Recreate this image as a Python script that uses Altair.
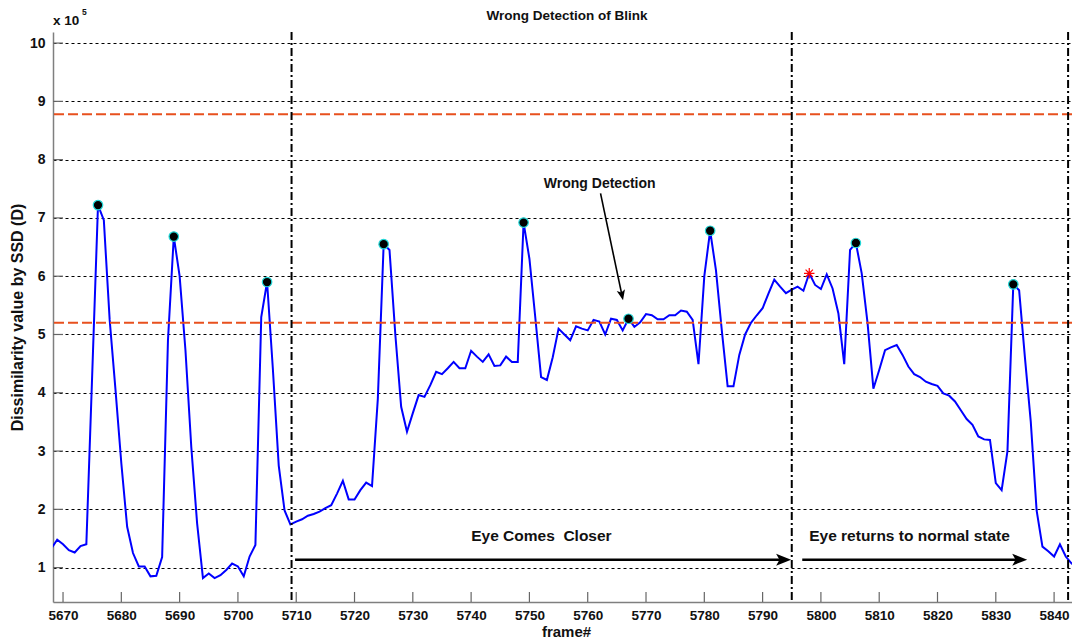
import altair as alt
import pandas as pd

# ---------------- data ----------------
frames = list(range(5668, 5845))
ssd = [
    1.33, 1.48, 1.40, 1.30, 1.26, 1.37, 1.40, 4.30, 7.22, 6.96,   # 5668-5677
    5.25, 4.05, 2.79, 1.70, 1.25, 1.02, 1.02, 0.85, 0.86, 1.18,   # 5678-5687
    4.90, 6.68, 6.00, 4.73, 3.07, 1.76, 0.82, 0.90, 0.82, 0.87,   # 5688-5697
    0.96, 1.07, 1.02, 0.85, 1.19, 1.39, 5.30, 5.90, 4.40, 2.75,   # 5698-5707
    1.98, 1.74, 1.79, 1.83, 1.89, 1.92, 1.96, 2.02, 2.07, 2.27,   # 5708-5717
    2.49, 2.17, 2.17, 2.33, 2.46, 2.40, 3.90, 6.55, 6.45, 5.00,   # 5718-5727
    3.76, 3.33, 3.65, 3.96, 3.93, 4.13, 4.36, 4.32, 4.42, 4.53,   # 5728-5737
    4.42, 4.42, 4.72, 4.62, 4.53, 4.66, 4.46, 4.47, 4.62, 4.53,   # 5738-5747
    4.53, 6.92, 6.30, 5.30, 4.27, 4.22, 4.61, 5.10, 5.00, 4.90,   # 5748-5757
    5.14, 5.10, 5.07, 5.25, 5.22, 5.00, 5.27, 5.25, 5.07, 5.27,   # 5758-5767
    5.13, 5.21, 5.35, 5.33, 5.26, 5.26, 5.33, 5.33, 5.41, 5.39,   # 5768-5777
    5.25, 4.49, 6.00, 6.78, 6.10, 5.07, 4.11, 4.11, 4.65, 5.00,   # 5778-5787
    5.20, 5.33, 5.45, 5.70, 5.94, 5.82, 5.71, 5.77, 5.82, 5.75,   # 5788-5797
    6.05, 5.85, 5.78, 6.03, 5.79, 5.36, 4.49, 6.45, 6.57, 6.05,   # 5798-5807
    5.20, 4.07, 4.39, 4.73, 4.78, 4.82, 4.65, 4.45, 4.32, 4.27,   # 5808-5817
    4.19, 4.15, 4.12, 3.99, 3.95, 3.85, 3.70, 3.55, 3.45, 3.25,   # 5818-5827
    3.20, 3.19, 2.45, 2.33, 3.00, 5.86, 5.76, 4.60, 3.50, 1.98,   # 5828-5837
    1.36, 1.28, 1.19, 1.40, 1.19, 1.07, 1.13,                     # 5838-5844
]
assert len(frames) == len(ssd)

peak_frames = [5676, 5689, 5705, 5725, 5749, 5767, 5781, 5806, 5833]
false_frames = [5798]
thresholds = [8.78, 5.2]
boundaries = [5709.2, 5795.0, 5842.4]
x_ticks = list(range(5670, 5841, 10))
y_ticks = list(range(1, 11))

# arrows (frame / value coordinates)
arrow_x1 = [5709.8, 5796.8, 5762.2]
arrow_y1 = [1.137, 1.137, 7.42]
arrow_x2 = [5793.6, 5834.1, 5765.87]   # where the shaft meets the head
arrow_y2 = [1.137, 1.137, 5.674]
arrow_angle = [0, 0, 78]
arrow_size = [225, 225, 110]

ann_text = ["Wrong Detection", "Eye Comes\u00a0 Closer", "Eye returns to normal state"]
ann_x = [5762.06, 5752.06, 5815.2]
ann_y = [7.59, 1.537, 1.537]
ann_size = [14, 15.5, 15.5]

W, H = 1019, 570
XDOM = [5668.28, 5843.07]
YDOM = [0.41, 10.19]
FONT = "Liberation Sans"

xs = alt.Scale(domain=XDOM, nice=False, zero=False)
ys = alt.Scale(domain=YDOM, nice=False, zero=False)

# ---------------- tables ----------------
df = pd.DataFrame({"frame": frames, "ssd": ssd})
lookup = dict(zip(frames, ssd))
df_peak = pd.DataFrame({"frame": peak_frames, "ssd": [lookup[f] for f in peak_frames]})
df_false = pd.DataFrame({"frame": false_frames, "ssd": [lookup[f] for f in false_frames]})
df_thr = pd.DataFrame({"thr": thresholds})
df_bnd = pd.DataFrame({"frame": boundaries})
df_xt = pd.DataFrame({"frame": x_ticks})
df_yt = pd.DataFrame({"ssd": y_ticks})
df_arr = pd.DataFrame({"frame": arrow_x1, "ssd": arrow_y1, "x2": arrow_x2, "y2": arrow_y2,
                       "w": [2.5, 2.5, 1.6]})
df_head = pd.DataFrame({"frame": arrow_x2, "ssd": arrow_y2, "ang": arrow_angle,
                        "sz": arrow_size})
df_ann = pd.DataFrame({"txt": ann_text, "frame": ann_x, "ssd": ann_y, "fs": ann_size})

X = alt.X("frame:Q", scale=xs, title="frame#")
Y = alt.Y("ssd:Q", scale=ys, title="Dissimilarity value by SSD (D)")

# ---------------- layers ----------------
line = alt.Chart(df).mark_line(color="#0000ff", strokeWidth=2, clip=True).encode(
    x=alt.X("frame:Q", scale=xs, title="frame#", axis=alt.Axis(
        values=x_ticks, format="d", grid=False, ticks=False, labelFlush=False,
        domainColor="#7f7f7f", domainWidth=1.5,
        labelFont=FONT, labelFontWeight="bold", labelFontSize=13.5, labelColor="#111111",
        labelPadding=6, titleFont=FONT, titleFontWeight="bold",
        titleFontSize=15, titleColor="#111111", titlePadding=3, titleX=513)),
    y=alt.Y("ssd:Q", scale=ys, title="Dissimilarity value by SSD (D)", axis=alt.Axis(
        values=y_ticks, format="d", grid=True, gridDash=[3, 3], gridColor="#000000",
        gridWidth=1, ticks=False, domainColor="#7f7f7f", domainWidth=1.5,
        labelFont=FONT, labelFontWeight="bold", labelFontSize=14, labelColor="#111111",
        labelPadding=8, titleFont=FONT,
        titleFontWeight="bold", titleFontSize=16, titleColor="#111111", titlePadding=4)),
)

thr = alt.Chart(df_thr).mark_rule(color="#e8501e", strokeDash=[10, 4], strokeWidth=2).encode(
    y=alt.Y("thr:Q", scale=ys, title="Dissimilarity value by SSD (D)"))

bnd = alt.Chart(df_bnd).mark_rule(color="black", strokeDash=[8, 3, 2, 3], strokeWidth=2).encode(
    x=X)

xt = alt.Chart(df_xt).mark_rule(color="#666666", strokeWidth=1.2).encode(
    x=X, y=alt.value(H), y2=alt.value(H - 10))
yt = alt.Chart(df_yt).mark_rule(color="#666666", strokeWidth=1.2).encode(
    y=Y, x=alt.value(0), x2=alt.value(10))

peaks = alt.Chart(df_peak).mark_circle(size=90, color="black", stroke="#22d8d8",
                                       strokeWidth=1.2, opacity=1).encode(x=X, y=Y)

ASTER = "M-1,0L1,0M0,-1L0,1M-0.7,-0.7L0.7,0.7M-0.7,0.7L0.7,-0.7"
star = alt.Chart(df_false).mark_point(shape=ASTER, stroke="red", strokeWidth=1.2,
                                      size=110, filled=False, opacity=1).encode(x=X, y=Y)

shafts = alt.Chart(df_arr).mark_rule(color="black").encode(
    x=X, x2="x2:Q", y=Y, y2="y2:Q",
    strokeWidth=alt.StrokeWidth("w:Q", scale=None))

HEAD = "M1,0L-1,-0.8L-0.55,0L-1,0.8Z"
heads = alt.Chart(df_head).mark_point(shape=HEAD, filled=True, color="black", opacity=1).encode(
    x=X, y=Y, angle=alt.Angle("ang:Q", scale=None), size=alt.Size("sz:Q", scale=None))

ann = alt.Chart(df_ann).mark_text(font=FONT, fontWeight="bold", color="#111111",
                                  align="center", baseline="middle").encode(
    x=X, y=Y, text="txt:N", size=alt.Size("fs:Q", scale=None))

title = alt.Chart(pd.DataFrame({"t": ["Wrong Detection of Blink"]})).mark_text(
    font=FONT, fontWeight="bold", fontSize=13.5, color="#111111", align="center",
    baseline="middle").encode(text="t:N", x=alt.value(514), y=alt.value(-16))

mult = alt.Chart(pd.DataFrame({"t": ["x 10"]})).mark_text(
    font=FONT, fontWeight="bold", fontSize=13.5, color="#111111", align="left",
    baseline="alphabetic").encode(text="t:N", x=alt.value(0), y=alt.value(-7))
expo = alt.Chart(pd.DataFrame({"t": ["5"]})).mark_text(
    font=FONT, fontWeight="bold", fontSize=8.5, color="#111111", align="left",
    baseline="alphabetic").encode(text="t:N", x=alt.value(29), y=alt.value(-17))

chart = alt.layer(line, thr, bnd, xt, yt, shafts, heads, peaks, star,
                  ann, title, mult, expo).properties(
    width=W, height=H,
    autosize=alt.AutoSizeParams(type="none"),
    padding={"left": 45, "top": 24, "right": 0, "bottom": 41},
    background="white",
).configure_view(stroke=None)

chart.save("out.html", embed_options={"renderer": "svg", "actions": False})
